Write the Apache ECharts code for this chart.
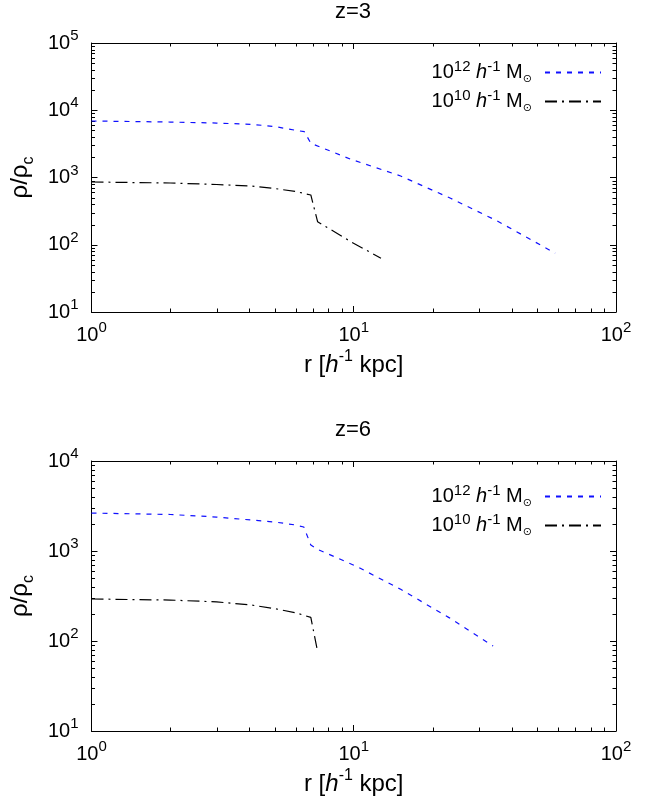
<!DOCTYPE html>
<html>
<head>
<meta charset="utf-8">
<script src="https://cdn.jsdelivr.net/npm/echarts@6/dist/echarts.min.js"></script>
<style>
  html, body { margin: 0; padding: 0; background: #fff; }
  #chart { width: 670px; height: 802px; }
</style>
</head>
<body>
<div id="chart"></div>
<script>
// Density profiles rho/rho_c against radius for two halo masses, at z=3 and z=6.
const panelTitles = ['z=3', 'z=6'];
const seriesNames = ['1e12', '1e10'];
const xRange = [1, 100];
const yRanges = [[10, 1e5], [10, 1e4]];

// z = 3
const r12z3   = [1, 2, 3, 4.06, 5, 5.93, 6.48, 6.86, 9.75, 15.1, 23.4, 35, 45, 58.6];
const rho12z3 = [6920, 6680, 6450, 6180, 5730, 5080, 4800, 3230, 1866, 1052, 491, 229, 133, 75];
const r10z3   = [1, 2, 3, 4.06, 5, 6, 6.86, 7.28, 9.75, 12.7];
const rho10z3 = [857, 828, 787, 748, 686, 619, 550, 220, 111, 63];

// z = 6
const r12z6   = [1, 2, 3, 4.06, 5, 6, 6.45, 6.86, 7.27, 10.3, 15.1, 23.0, 34.0];
const rho12z6 = [2640, 2545, 2385, 2210, 2100, 1945, 1847, 1166, 1045, 670, 375, 183, 88];
const r10z6   = [1, 2, 3, 4.06, 5, 6, 6.86, 7.27];
const rho10z6 = [293, 285, 272, 251, 229, 206, 183, 78];

const FONT = 'Liberation Sans';
const grids = [
  { left: 90, top: 43, width: 526, height: 269 },
  { left: 90, top: 461, width: 526, height: 270 }
];
const legendTops = [54, 478];

// superscripts sit at the top of the line box, subscripts at its bottom
const sup = size => ({ fontSize: size, fontFamily: FONT, color: '#000', height: 8, lineHeight: 8, verticalAlign: 'top' });
const sub = (size, family) => ({ fontSize: size, fontFamily: family || FONT, color: '#000', height: 6, lineHeight: 6, verticalAlign: 'bottom' });

const powRich = {
  b: { fontSize: 20, fontFamily: FONT, color: '#000', lineHeight: 22 },
  s: sup(15)
};
const powLabel = v => '{b|10}{s|' + Math.round(Math.log10(v)) + '}';

const nameRich = {
  t: { fontSize: 24, fontFamily: FONT, color: '#000', lineHeight: 24 },
  i: { fontSize: 24, fontFamily: FONT, color: '#000', fontStyle: 'italic', lineHeight: 24 },
  s: sup(16),
  c: sub(16)
};

const legendRich = {
  t: { fontSize: 20, fontFamily: FONT, color: '#000', lineHeight: 20 },
  i: { fontSize: 20, fontFamily: FONT, color: '#000', fontStyle: 'italic', lineHeight: 20 },
  s: sup(15),
  o: sub(11, 'DejaVu Sans'),
  p: { width: 8, lineHeight: 6, height: 6 }
};
const legendText = {
  '1e12': '{t|10}{s|12}{t| }{i|h}{s|-1}{t| M}{o|⊙}{p|}',
  '1e10': '{t|10}{s|10}{t| }{i|h}{s|-1}{t| M}{o|⊙}{p|}'
};

function minorValues(lo, hi) {
  const out = [];
  for (let d = lo; d < hi; d *= 10) {
    for (let k = 2; k <= 9; k++) out.push(d * k);
  }
  return out;
}

const xAxes = [], yAxes = [], series = [], legends = [], graphics = [];
const panels = [
  { r12: r12z3, rho12: rho12z3, r10: r10z3, rho10: rho10z3 },
  { r12: r12z6, rho12: rho12z6, r10: r10z6, rho10: rho10z6 }
];

const axisLine = { show: true, lineStyle: { color: '#000', width: 1 } };

panels.forEach((p, g) => {
  const [ymin, ymax] = yRanges[g];
  // bottom and top x axes
  xAxes.push({
    type: 'log', logBase: 10, gridIndex: g, position: 'bottom', min: xRange[0], max: xRange[1],
    axisLine, splitLine: { show: false },
    axisTick: { inside: true, length: 6, lineStyle: { color: '#000' } },
    axisLabel: { margin: 12, formatter: powLabel, rich: powRich },
    name: '{t|r [}{i|h}{s|-1}{t| kpc]}', nameLocation: 'middle', nameGap: 41,
    nameTextStyle: { rich: nameRich }
  });
  xAxes.push({
    type: 'log', logBase: 10, gridIndex: g, position: 'top', min: xRange[0], max: xRange[1],
    axisLine, splitLine: { show: false },
    axisTick: { inside: true, length: 6, lineStyle: { color: '#000' } },
    axisLabel: { show: false }
  });
  // left and right y axes
  yAxes.push({
    type: 'log', logBase: 10, gridIndex: g, position: 'left', min: ymin, max: ymax,
    axisLine, splitLine: { show: false },
    axisTick: { inside: true, length: 6, lineStyle: { color: '#000' } },
    axisLabel: { margin: 13, formatter: powLabel, rich: powRich },
    name: '{t|ρ/ρ}{c|c}', nameLocation: 'middle', nameGap: 55, nameRotate: 90,
    nameTextStyle: { rich: nameRich }
  });
  yAxes.push({
    type: 'log', logBase: 10, gridIndex: g, position: 'right', min: ymin, max: ymax,
    axisLine, splitLine: { show: false },
    axisTick: { inside: true, length: 6, lineStyle: { color: '#000' } },
    axisLabel: { show: false }
  });

  const xi = g * 2, yi = g * 2;
  series.push({
    name: seriesNames[0], type: 'line', xAxisIndex: xi, yAxisIndex: yi,
    data: p.r12.map((r, i) => [r, p.rho12[i]]),
    symbol: 'none', showSymbol: false, smooth: false, animation: false,
    lineStyle: { color: '#1010ff', width: 1.2, type: [5, 6] },
    itemStyle: { color: '#1010ff' }
  });
  series.push({
    name: seriesNames[1], type: 'line', xAxisIndex: xi, yAxisIndex: yi,
    data: p.r10.map((r, i) => [r, p.rho10[i]]),
    symbol: 'none', showSymbol: false, smooth: false, animation: false,
    lineStyle: { color: '#000', width: 1.2, type: [12, 5, 2, 5] },
    itemStyle: { color: '#000' }
  });

  // minor ticks of the log axes on all four sides
  const mx = minorValues(xRange[0], xRange[1]);
  const my = minorValues(ymin, ymax);
  series.push({
    type: 'custom', xAxisIndex: xi, yAxisIndex: yi, silent: true, animation: false,
    data: [[xRange[0], ymin]],
    renderItem: (params, api) => {
      const cs = params.coordSys;
      const L = 3.5;
      const children = [];
      const st = { stroke: '#000', lineWidth: 1 };
      mx.forEach(v => {
        const x = Math.round(api.coord([v, ymin])[0]) + 0.5;
        children.push({ type: 'line', shape: { x1: x, y1: cs.y + cs.height, x2: x, y2: cs.y + cs.height - L }, style: st });
        children.push({ type: 'line', shape: { x1: x, y1: cs.y, x2: x, y2: cs.y + L }, style: st });
      });
      my.forEach(v => {
        const y = Math.round(api.coord([xRange[0], v])[1]) + 0.5;
        children.push({ type: 'line', shape: { x1: cs.x, y1: y, x2: cs.x + L, y2: y }, style: st });
        children.push({ type: 'line', shape: { x1: cs.x + cs.width, y1: y, x2: cs.x + cs.width - L, y2: y }, style: st });
      });
      return { type: 'group', children };
    }
  });

  legends.push({
    data: seriesNames, orient: 'vertical', right: 63, top: legendTops[g],
    align: 'right', itemWidth: 56, itemHeight: 14, itemGap: 3,
    selectedMode: false, inactiveColor: '#000',
    itemStyle: { opacity: 0 },
    formatter: name => legendText[name],
    textStyle: { rich: legendRich }
  });

  graphics.push({
    type: 'text', x: grids[g].left + grids[g].width / 2, y: g === 0 ? 12 : 430,
    style: { text: panelTitles[g], fontSize: 22, fontFamily: FONT, fill: '#000', align: 'center', verticalAlign: 'middle' }
  });
});

const chart = echarts.init(document.getElementById('chart'), null, { renderer: 'canvas' });
chart.setOption({
  backgroundColor: '#fff',
  animation: false,
  textStyle: { fontFamily: FONT },
  grid: grids,
  xAxis: xAxes,
  yAxis: yAxes,
  legend: legends,
  graphic: graphics,
  series
});
</script>
</body>
</html>
